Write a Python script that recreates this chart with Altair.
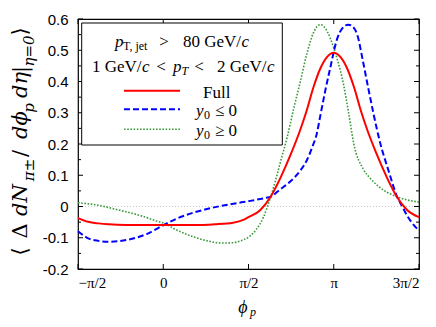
import altair as alt
import pandas as pd

# ---- data (phi in units of pi) ----
red_x = [-0.5, -0.44, -0.38, -0.32, -0.22, 0.0, 0.22, 0.3, 0.41, 0.47, 0.5, 0.57, 0.63, 0.69, 0.75,
         0.8, 0.84, 0.88, 0.92, 0.96, 1.0, 1.04, 1.08, 1.12, 1.16, 1.2, 1.25, 1.31, 1.37, 1.43, 1.5]
red_y = [-0.037, -0.049, -0.054, -0.057, -0.059, -0.059, -0.059, -0.057, -0.052, -0.043, -0.034, -0.011,
         0.031, 0.095, 0.17, 0.24, 0.305, 0.38, 0.44, 0.478, 0.492, 0.478, 0.44, 0.38, 0.305, 0.24, 0.17,
         0.095, 0.031, -0.011, -0.034]

blue_x = [-0.5, -0.44, -0.38, -0.32, -0.26, -0.205, -0.088, 0.0, 0.082, 0.2, 0.305, 0.411, 0.51, 0.604,
          0.628, 0.686, 0.745, 0.804, 0.843, 0.874, 0.901, 0.921, 0.95, 0.98, 1.019, 1.05, 1.085, 1.12,
          1.138, 1.173, 1.202, 1.232, 1.273, 1.32, 1.372, 1.402, 1.431, 1.466, 1.5]
blue_y = [-0.079, -0.102, -0.110, -0.113, -0.111, -0.106, -0.086, -0.060, -0.038, -0.016, -0.002, 0.009,
          0.018, 0.028, 0.031, 0.055, 0.08, 0.115, 0.149, 0.19, 0.234, 0.29, 0.37, 0.445, 0.535, 0.57,
          0.582, 0.57, 0.549, 0.46, 0.38, 0.30, 0.202, 0.117, 0.031, 0.0, -0.030, -0.057, -0.077]

green_x = [-0.5, -0.381, -0.264, -0.147, -0.029, 0.0, 0.082, 0.176, 0.276, 0.346, 0.405, 0.463, 0.51,
           0.545, 0.587, 0.628, 0.657, 0.686, 0.726, 0.764, 0.804, 0.843, 0.88, 0.921, 0.962, 0.98,
           1.019, 1.058, 1.087, 1.117, 1.173, 1.214, 1.255, 1.314, 1.372, 1.431, 1.5]
green_y = [0.012, 0.004, -0.011, -0.027, -0.048, -0.053, -0.076, -0.097, -0.112, -0.117, -0.116, -0.108,
           -0.094, -0.074, -0.035, 0.028, 0.08, 0.14, 0.22, 0.31, 0.40, 0.49, 0.555, 0.582, 0.56, 0.538,
           0.474, 0.389, 0.30, 0.202, 0.12, 0.09, 0.068, 0.045, 0.031, 0.021, 0.014]

x_ticks = [-0.5, 0, 0.5, 1, 1.5]
x_tick_labels = ["\u2212\u03c0/2", "0", "\u03c0/2", "\u03c0", "3\u03c0/2"]
y_major = [-0.2, -0.1, 0.0, 0.1, 0.2, 0.3, 0.4, 0.5, 0.6]
y_minor = [-0.15, -0.05, 0.05, 0.15, 0.25, 0.35, 0.45, 0.55]
series_names = ["Full", "y", "y"]
colors = ["#ff0000", "#0000ff", "#3a9a3a"]

SERIF = "Liberation Serif, DejaVu Serif, serif"
DSERIF = "DejaVu Serif, Liberation Serif, serif"
SANS = "Liberation Sans, Arial, sans-serif"
W, H = 341, 250
LS = 17  # legend font size

xs = alt.Scale(domain=[-0.5, 1.5], nice=False, zero=False)
ys = alt.Scale(domain=[-0.2, 0.6], nice=False, zero=False)

x_expr = " : ".join(
    f"datum.value == {v} ? '{l}'" for v, l in zip(x_ticks, x_tick_labels)) + " : ''"
x_axis = alt.Axis(values=x_ticks, labelExpr=x_expr, ticks=False, tickSize=0, domain=False, grid=False,
                  title=None, labelFont=SERIF, labelFontSize=15, labelPadding=6, labelColor="black")
y_axis = alt.Axis(values=y_major, ticks=False, tickSize=0, domain=False, grid=False, title=None,
                  labelExpr="datum.value < -0.001 ? '-' + format(-datum.value, '.1f') : (abs(datum.value) < 0.001 ? '0' : format(datum.value, '.1f'))",
                  labelFont=SANS, labelFontSize=15, labelPadding=10, labelColor="black")


def ex(f):
    return alt.X(f, type="quantitative", scale=xs, axis=x_axis)


def ey(f):
    return alt.Y(f, type="quantitative", scale=ys, axis=y_axis)


one = pd.DataFrame({"a": [0]})


def txt(s, x, y, size=LS, style="normal", align="left", baseline="alphabetic", angle=0, font=SERIF):
    return alt.Chart(one).mark_text(text=s, align=align, baseline=baseline, fontSize=size,
                                    fontStyle=style, font=font, angle=angle, color="black").encode(
        x=alt.value(x), y=alt.value(y))


layers = []
# zero line
layers.append(alt.Chart(pd.DataFrame({"y": [0.0]})).mark_rule(
    color="#c8c8c8", strokeDash=[1, 2], strokeWidth=1).encode(y=ey("y")))

# curves
layers.append(alt.Chart(pd.DataFrame({"x": green_x, "y": green_y})).mark_line(
    color=colors[2], strokeWidth=1.6, strokeDash=[1.6, 1.6], interpolate="monotone").encode(x=ex("x"), y=ey("y")))
layers.append(alt.Chart(pd.DataFrame({"x": blue_x, "y": blue_y})).mark_line(
    color=colors[1], strokeWidth=2, strokeDash=[6, 3], interpolate="monotone").encode(x=ex("x"), y=ey("y")))
layers.append(alt.Chart(pd.DataFrame({"x": red_x, "y": red_y})).mark_line(
    color=colors[0], strokeWidth=2, interpolate="monotone").encode(x=ex("x"), y=ey("y")))

# inward ticks
ymaj = pd.DataFrame({"v": y_major})
ymin = pd.DataFrame({"v": y_minor})
xmaj = pd.DataFrame({"v": x_ticks})
layers.append(alt.Chart(ymaj).mark_rule(color="black", strokeWidth=1).encode(y=ey("v"), x=alt.value(0), x2=alt.value(5)))
layers.append(alt.Chart(ymaj).mark_rule(color="black", strokeWidth=1).encode(y=ey("v"), x=alt.value(W - 5), x2=alt.value(W)))
layers.append(alt.Chart(ymin).mark_rule(color="black", strokeWidth=1).encode(y=ey("v"), x=alt.value(0), x2=alt.value(3)))
layers.append(alt.Chart(ymin).mark_rule(color="black", strokeWidth=1).encode(y=ey("v"), x=alt.value(W - 3), x2=alt.value(W)))
layers.append(alt.Chart(xmaj).mark_rule(color="black", strokeWidth=1).encode(x=ex("v"), y=alt.value(H), y2=alt.value(H - 5)))
layers.append(alt.Chart(xmaj).mark_rule(color="black", strokeWidth=1).encode(x=ex("v"), y=alt.value(0), y2=alt.value(5)))

# legend box
layers.append(alt.Chart(one).mark_rect(fill="white", stroke="black", strokeWidth=1).encode(
    x=alt.value(3.7), x2=alt.value(204.3), y=alt.value(4), y2=alt.value(126)))

# legend header text
layers += [
    txt("p", 37, 27.7, style="italic"),
    txt("T, jet", 45, 31, size=12),
    txt(">", 86, 27.7, align="center"),
    txt("80 GeV/", 163, 27.7, align="right"),
    txt("c", 163.5, 27.7, style="italic"),
    txt("1 GeV/", 63.5, 52.7, align="right"),
    txt("c", 64, 52.7, style="italic"),
    txt("<", 83, 52.7, align="center"),
    txt("p", 95, 52.7, style="italic"),
    txt("T", 103.5, 56, size=12, style="italic"),
    txt("<", 121, 52.7, align="center"),
    txt("2 GeV/", 188.5, 52.7, align="right"),
    txt("c", 189, 52.7, style="italic"),
]

# legend entries
layers.append(alt.Chart(one).mark_rule(color=colors[0], strokeWidth=2).encode(
    x=alt.value(46), x2=alt.value(102), y=alt.value(71.7)))
layers.append(alt.Chart(one).mark_rule(color=colors[1], strokeWidth=2, strokeDash=[6, 3]).encode(
    x=alt.value(46), x2=alt.value(102), y=alt.value(90.3)))
layers.append(alt.Chart(one).mark_rule(color=colors[2], strokeWidth=1.6, strokeDash=[1.6, 1.6]).encode(
    x=alt.value(46), x2=alt.value(102), y=alt.value(110.3)))
layers += [
    txt(series_names[0], 125, 79),
    txt(series_names[1], 118, 96.5, style="italic"),
    txt("0", 126, 100, size=12),
    txt("\u2264 0", 137, 96.5),
    txt(series_names[2], 118, 116.5, style="italic"),
    txt("0", 126, 120, size=12),
    txt("\u2265 0", 137, 116.5),
]

# x title
layers += [
    txt("\u03d5", 165, 294, size=18, style="italic", align="center"),
    txt("p", 172, 297, size=12, style="italic"),
]

# y title (rotated)
YB = -51
YS = -44
TS = 21
SS = 15
layers += [
    txt("\u27e8", YB, 232.5, size=TS, angle=270, align="center", font=DSERIF),
    txt("\u0394", YB, 212, size=TS, angle=270, align="center", font=DSERIF),
    txt("dN", YB, 181, size=TS, style="italic", angle=270, align="center", font=DSERIF),
    txt("\u03c0\u00b1", YS, 151, size=SS, style="italic", angle=270, align="center", font=DSERIF),
    txt("/", YB, 134.5, size=TS, angle=270, align="center", font=DSERIF),
    txt("d\u03d5", YB, 106, size=TS, style="italic", angle=270, align="center", font=DSERIF),
    txt("p", YS, 89, size=SS, style="italic", angle=270, align="center", font=DSERIF),
    txt("d\u03b7", YB, 66, size=TS, style="italic", angle=270, align="center", font=DSERIF),
    txt("|", YB, 50.5, size=TS, angle=270, align="center", font=DSERIF),
    txt("\u03b7=0", YS, 32, size=SS, style="italic", angle=270, align="center", font=DSERIF),
    txt("\u27e9", YB, 12.5, size=TS, angle=270, align="center", font=DSERIF),
]

chart = alt.layer(*layers).properties(
    width=W, height=H,
    autosize=alt.AutoSizeParams(type="none"),
    padding={"left": 70, "top": 11, "right": 9, "bottom": 50},
).configure_view(stroke="black", strokeWidth=1.2)

chart.save("out.html", embed_options={"renderer": "svg", "actions": False})
